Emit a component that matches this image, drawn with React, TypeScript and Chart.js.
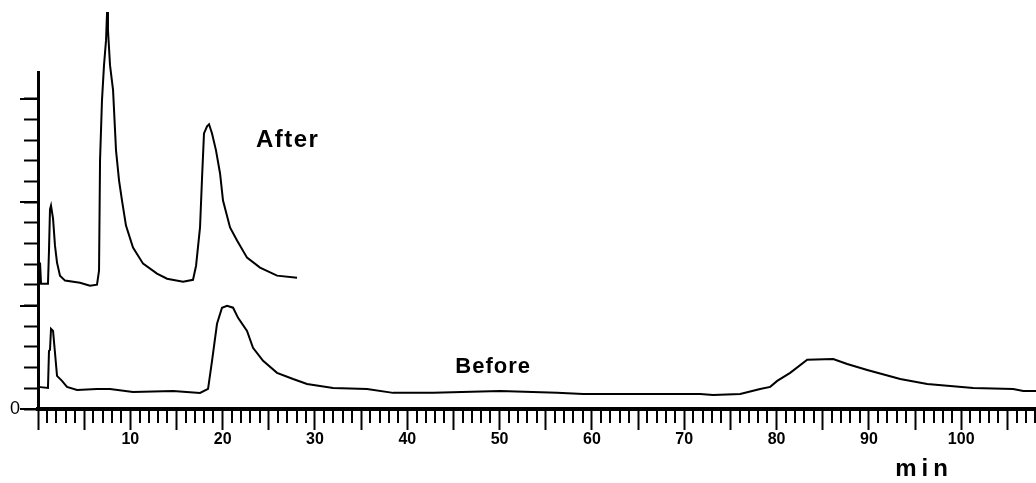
import React, { useEffect, useRef } from 'react';
import { Chart, registerables } from 'chart.js';

Chart.register(...registerables);

// Retention time (min) and detector response (axis tick units)
const afterTimes = [0, 0.22, 0.33, 1.08, 1.19, 1.3, 1.41, 1.63, 1.84, 2.06, 2.38, 2.93, 4.55, 5.63, 6.39, 6.61, 6.72, 6.93, 7.15, 7.37, 7.48, 7.58, 7.8, 8.13, 8.45, 8.78, 9.1, 9.53, 10.29, 11.38, 12.89, 13.98, 15.71, 16.79, 17.12, 17.55, 17.77, 17.98, 18.31, 18.53, 18.85, 19.28, 19.72, 20.04, 20.8, 21.56, 22.64, 24.05, 25.89, 28.06];
const afterValues = [6.06, 7.08, 6.06, 6.06, 7.66, 9.65, 9.84, 9.21, 7.9, 7.08, 6.45, 6.21, 6.11, 5.96, 6.01, 6.69, 12.03, 14.93, 16.63, 17.84, 19.2, 18.33, 16.63, 15.42, 12.51, 11.05, 10.08, 8.87, 7.81, 7.03, 6.55, 6.3, 6.16, 6.25, 6.93, 8.78, 11.2, 13.33, 13.67, 13.77, 13.33, 12.51, 11.39, 10.08, 8.78, 8.15, 7.32, 6.84, 6.45, 6.35];

const beforeTimes = [0, 1.08, 1.19, 1.3, 1.41, 1.63, 1.84, 2.06, 2.6, 3.14, 4.23, 6.39, 7.8, 10.29, 14.63, 17.55, 18.42, 18.85, 19.39, 19.93, 20.48, 21.13, 21.67, 22.64, 23.29, 24.38, 25.89, 27.63, 29.14, 31.96, 35.64, 38.46, 42.8, 50.05, 56.23, 59.05, 71.72, 73.13, 76.06, 78.22, 79.31, 80.07, 81.47, 83.32, 86.13, 87.65, 89.82, 93.39, 96.32, 101.3, 105.63, 106.72, 108.1];
const beforeValues = [1.07, 1.02, 2.81, 2.86, 3.88, 3.78, 2.72, 1.6, 1.36, 1.07, 0.92, 0.97, 0.97, 0.82, 0.87, 0.78, 0.97, 2.33, 4.12, 4.9, 4.99, 4.9, 4.41, 3.78, 2.96, 2.33, 1.75, 1.45, 1.21, 1.02, 0.97, 0.78, 0.78, 0.87, 0.78, 0.73, 0.73, 0.68, 0.73, 0.97, 1.07, 1.36, 1.75, 2.38, 2.42, 2.18, 1.89, 1.45, 1.21, 1.02, 0.97, 0.87, 0.87];

const seriesNames = ['After', 'Before'];
const xLabeledTicks = [10, 20, 30, 40, 50, 60, 70, 80, 90, 100];
const yLabeledTicks = [0];
const xAxisTitle = 'min';

const X_MIN = 0;
const X_MAX = 108.1;
const Y_MIN = 0;
const Y_MAX = 16.3;

const FONT = '"Liberation Sans", Arial, sans-serif';

const decorPlugin = {
  id: 'decor',
  afterDraw(chart: any) {
    const ctx = chart.ctx as CanvasRenderingContext2D;
    const xs = chart.scales.x;
    const ys = chart.scales.y;
    const area = chart.chartArea;
    ctx.save();
    ctx.strokeStyle = '#000';
    ctx.lineWidth = 2;
    // minor x ticks
    for (let i = Math.ceil(xs.min); i <= Math.floor(xs.max); i++) {
      if (i % 5 === 0) continue;
      const px = Math.round(xs.getPixelForValue(i));
      ctx.beginPath();
      ctx.moveTo(px, area.bottom);
      ctx.lineTo(px, area.bottom + 14);
      ctx.stroke();
    }
    // longer y ticks at every fifth step
    for (let j = 0; j <= Math.floor(ys.max); j += 5) {
      const py = Math.round(ys.getPixelForValue(j));
      ctx.beginPath();
      ctx.moveTo(area.left, py);
      ctx.lineTo(area.left - 18, py);
      ctx.stroke();
    }
    // annotations
    ctx.fillStyle = '#000';
    ctx.textAlign = 'left';
    ctx.textBaseline = 'alphabetic';
    (ctx as any).letterSpacing = '1.5px';
    ctx.font = `bold 24px ${FONT}`;
    ctx.fillText(seriesNames[0], xs.getPixelForValue(23.6), ys.getPixelForValue(12.67));
    (ctx as any).letterSpacing = '1px';
    ctx.font = `bold 22px ${FONT}`;
    ctx.fillText(seriesNames[1], xs.getPixelForValue(45.2), ys.getPixelForValue(1.75));
    (ctx as any).letterSpacing = '5px';
    ctx.font = `bold 24px ${FONT}`;
    ctx.fillText(xAxisTitle, xs.getPixelForValue(92.85), area.bottom + 67);
    ctx.restore();
  },
};

export default function App() {
  const canvasRef = useRef<HTMLCanvasElement | null>(null);

  useEffect(() => {
    if (!canvasRef.current) return;
    const toPoints = (ts: number[], vs: number[]) => ts.map((t, i) => ({ x: t, y: vs[i] }));
    const chart = new Chart(canvasRef.current, {
      type: 'line',
      data: {
        datasets: [
          {
            label: seriesNames[0],
            data: toPoints(afterTimes, afterValues),
            borderColor: '#000',
            borderWidth: 2,
            pointRadius: 0,
            fill: false,
            tension: 0,
            clip: false as any,
          },
          {
            label: seriesNames[1],
            data: toPoints(beforeTimes, beforeValues),
            borderColor: '#000',
            borderWidth: 2,
            pointRadius: 0,
            fill: false,
            tension: 0,
            clip: false as any,
          },
        ],
      },
      options: {
        responsive: false,
        animation: false,
        parsing: false,
        layout: { padding: { top: 72, right: 0, left: 0, bottom: 0 } },
        plugins: { legend: { display: false }, tooltip: { enabled: false } },
        scales: {
          x: {
            type: 'linear',
            min: X_MIN,
            max: X_MAX,
            afterFit: (s: any) => {
              s.height = 74;
              s.paddingLeft = 0;
              s.paddingRight = 0;
            },
            border: { display: true, color: '#000', width: 4 },
            grid: {
              drawOnChartArea: false,
              tickLength: 21,
              tickWidth: 2,
              tickColor: (c: any) => (c.tick && Math.abs(c.tick.value % 5) < 1e-6 ? '#000' : 'rgba(0,0,0,0)'),
            },
            ticks: {
              stepSize: 1,
              autoSkip: false,
              maxRotation: 0,
              padding: 0,
              color: '#000',
              font: { family: FONT, size: 16, weight: 'bold' },
              callback: (v: any) => (xLabeledTicks.includes(Number(v)) ? String(v) : ''),
            },
          },
          y: {
            type: 'linear',
            min: Y_MIN,
            max: Y_MAX,
            afterFit: (s: any) => {
              s.width = 38;
              s.paddingTop = 0;
              s.paddingBottom = 0;
            },
            border: { display: true, color: '#000', width: 3 },
            grid: {
              drawOnChartArea: false,
              tickLength: 14,
              tickWidth: 2,
              tickColor: (c: any) => (c.tick && Number.isInteger(c.tick.value) ? '#000' : 'rgba(0,0,0,0)'),
            },
            ticks: {
              stepSize: 1,
              autoSkip: false,
              padding: 4,
              color: '#000',
              font: { family: FONT, size: 18 },
              callback: (v: any) => (yLabeledTicks.includes(Number(v)) ? String(v) : ''),
            },
          },
        },
      },
      plugins: [decorPlugin],
    });
    return () => chart.destroy();
  }, []);

  return (
    <div style={{ position: 'absolute', left: 0, top: 0, width: 1036, height: 483, background: '#fff' }}>
      <canvas ref={canvasRef} width={1036} height={483} style={{ display: 'block' }} />
    </div>
  );
}
